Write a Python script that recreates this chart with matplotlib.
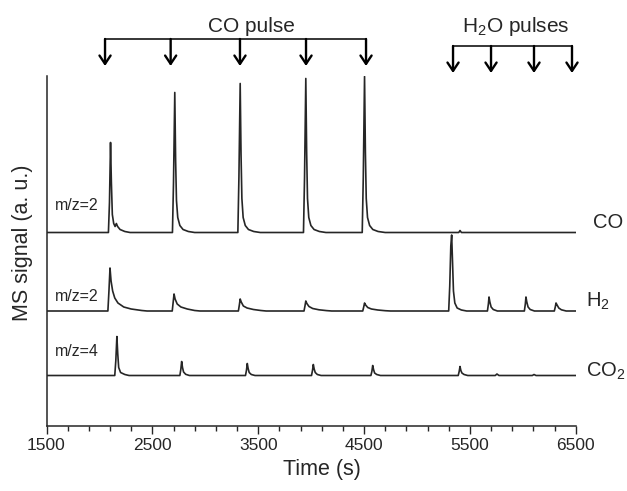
import numpy as np
import matplotlib.pyplot as plt
from matplotlib.ticker import FixedLocator, NullFormatter

plt.rcParams['font.family'] = ['Liberation Sans', 'DejaVu Sans']
plt.rcParams['mathtext.fontset'] = 'custom'
plt.rcParams['mathtext.rm'] = 'Liberation Sans'

# signals (a. u., relative to each trace's baseline)
co_time = [1500, 2085, 2095, 2105, 2113, 2122, 2135, 2148, 2160, 2172, 2195, 2240, 2290,
           2690, 2700, 2712, 2720, 2728, 2740, 2760, 2790, 2840, 2900,
           3308, 3318, 3330, 3338, 3346, 3358, 3378, 3408, 3458, 3520,
           3928, 3938, 3950, 3958, 3966, 3978, 3998, 4028, 4078, 4140,
           4483, 4493, 4505, 4513, 4521, 4533, 4553, 4583, 4633, 4700,
           5395, 5407, 5420, 6500]
co_sig = [0, 0, 30, 90, 50, 18, 9, 6, 9, 6, 3, 1, 0,
          0, 50, 140, 72, 32, 15, 7, 3, 1, 0,
          0, 55, 149, 78, 34, 15, 7, 3, 1, 0,
          0, 55, 154, 80, 34, 15, 7, 3, 1, 0,
          0, 55, 156, 80, 34, 15, 7, 3, 1, 0,
          0, 2, 0, 0]

h2_time = [1500, 2080, 2090, 2100, 2110, 2125, 2145, 2175, 2230, 2300, 2400, 2450,
           2688, 2697, 2705, 2715, 2735, 2770, 2830, 2900, 2950,
           3313, 3322, 3330, 3340, 3360, 3395, 3455, 3525, 3575,
           3933, 3942, 3950, 3960, 3980, 4015, 4075, 4145, 4195,
           4488, 4497, 4505, 4515, 4535, 4570, 4630, 4700, 4750,
           5300, 5310, 5320, 5328, 5336, 5345, 5358, 5380, 5420, 5470,
           5666, 5675, 5681, 5689, 5701, 5721, 5760,
           6015, 6024, 6030, 6038, 6050, 6070, 6110,
           6298, 6307, 6314, 6324, 6340, 6365, 6410, 6500]
h2_sig = [0, 0, 20, 43, 30, 20, 13, 8, 4, 2, 0.5, 0,
          0, 9, 17, 12, 7, 4, 2, 0.5, 0,
          0, 6, 12, 9, 5, 3, 1.5, 0.5, 0,
          0, 5, 10, 7.5, 4.5, 2.5, 1.2, 0.4, 0,
          0, 4, 8, 6, 3.5, 2, 1, 0.3, 0,
          0, 25, 65, 76, 50, 20, 8, 3, 1, 0,
          0, 7, 14, 9, 4, 1.5, 0,
          0, 7, 14, 9, 4, 1.5, 0,
          0, 4, 8, 6, 3, 1.2, 0, 0]

co2_time = [1500, 2145, 2155, 2165, 2173, 2182, 2200, 2240, 2280,
            2760, 2769, 2777, 2785, 2795, 2815, 2850,
            3380, 3389, 3397, 3405, 3415, 3435, 3470,
            4004, 4013, 4021, 4029, 4039, 4059, 4094,
            4565, 4574, 4582, 4590, 4600, 4620, 4655,
            5390, 5399, 5407, 5415, 5425, 5445, 5480,
            5740, 5756, 5775, 6090, 6106, 6125, 6500]
co2_sig = [0, 0, 15, 39, 22, 8, 3, 1, 0,
           0, 6, 14, 8, 3.5, 1.2, 0,
           0, 5, 12, 7, 3, 1, 0,
           0, 5, 11, 6.5, 3, 1, 0,
           0, 4, 10, 6, 2.5, 1, 0,
           0, 4, 9, 5, 2.5, 1, 0,
           0, 1.5, 0, 0, 1, 0, 0]

co_pulses = [2053, 2673, 3328, 3952, 4519]
h2o_pulses = [5341, 5700, 6106, 6465]

# vertical offsets of the stacked traces
co_base, h2_base, co2_base = 193.5, 115, 50.5

fig = plt.figure(figsize=(6.27, 4.91), dpi=100)
ax = fig.add_axes([46.5 / 627, 65 / 491, 529.2 / 627, 350 / 491])

lc = '#262626'
ax.plot(co_time, np.array(co_sig) + co_base, color=lc, lw=1.2)
ax.plot(h2_time, np.array(h2_sig) + h2_base, color=lc, lw=1.2)
ax.plot(co2_time, np.array(co2_sig) + co2_base, color=lc, lw=1.2)

ax.set_xlim(1500, 6500)
ax.set_ylim(0, 350)
ax.set_yticks([])
ax.xaxis.set_major_locator(FixedLocator([1500, 2500, 3500, 4500, 5500, 6500]))
ax.xaxis.set_minor_locator(FixedLocator(np.arange(1500, 6501, 200)))
ax.xaxis.set_minor_formatter(NullFormatter())
ax.tick_params(axis='x', which='major', length=5.5, width=1.0, labelsize=12.5, pad=3.5, colors=lc)
ax.tick_params(axis='x', which='minor', length=3.5, width=1.0, colors=lc)
for s in ['top', 'right']:
    ax.spines[s].set_visible(False)
for s in ['left', 'bottom']:
    ax.spines[s].set_linewidth(1.1)
    ax.spines[s].set_color(lc)

# trace labels
ax.text(6661, 203, 'CO', fontsize=14.5, va='center', ha='left', color=lc)
ax.text(6594, 124.3, r'H$_\mathrm{2}$', fontsize=14.5, va='center', ha='left', color=lc)
ax.text(6594, 54.3, r'CO$_\mathrm{2}$', fontsize=14.5, va='center', ha='left', color=lc)
ax.text(1580, 221, 'm/z=2', fontsize=11.5, va='center', ha='left', color=lc)
ax.text(1580, 129.3, 'm/z=2', fontsize=11.5, va='center', ha='left', color=lc)
ax.text(1580, 74.3, 'm/z=4', fontsize=11.5, va='center', ha='left', color=lc)

# pulse brackets
def bracket(times, y_top, y_tip):
    ax.plot([times[0], times[-1]], [y_top, y_top], color='k', lw=1.1, clip_on=False)
    for t in times:
        ax.annotate('', xy=(t, y_tip), xytext=(t, y_top), annotation_clip=False,
                    arrowprops=dict(arrowstyle='->,head_length=0.6,head_width=0.4',
                                    lw=1.7, color='k', shrinkA=0, shrinkB=0))

bracket(co_pulses, 387, 360)
bracket(h2o_pulses, 380, 353)
ax.text(3441, 399, 'CO pulse', fontsize=15, ha='center', va='center', color=lc)
ax.text(5936, 399, r'H$_\mathrm{2}$O pulses', fontsize=15, ha='center', va='center', color=lc)

fig.text(23 / 627, 1 - 243 / 491, 'MS signal (a. u.)', rotation=90, fontsize=15.5,
         ha='center', va='center', color=lc)
fig.text(322 / 627, 1 - 469 / 491, 'Time (s)', fontsize=15.5, ha='center', va='center', color=lc)

fig.savefig('out.png', dpi=100)
